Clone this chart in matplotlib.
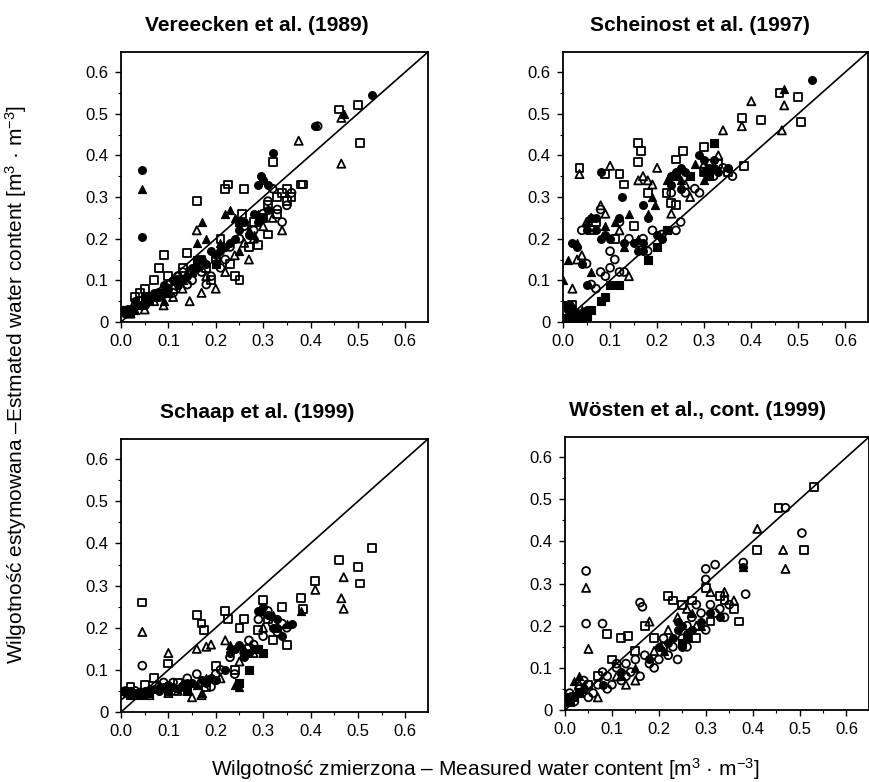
import matplotlib
matplotlib.use("Agg")
import matplotlib.pyplot as plt
from matplotlib.ticker import MultipleLocator

plt.rcParams['font.family'] = ['Liberation Sans', 'DejaVu Sans']
plt.rcParams['mathtext.fontset'] = 'custom'
plt.rcParams['mathtext.rm'] = 'Liberation Sans'
plt.rcParams['mathtext.it'] = 'Liberation Sans:italic'

titles = ["Vereecken et al. (1989)", "Scheinost et al. (1997)",
          "Schaap et al. (1999)", "Wösten et al., cont. (1999)"]
x_ticks = [0.0, 0.1, 0.2, 0.3, 0.4, 0.5, 0.6]
x_tick_labels = ["0.0", "0.1", "0.2", "0.3", "0.4", "0.5", "0.6"]
y_ticks = [0.0, 0.1, 0.2, 0.3, 0.4, 0.5, 0.6]
y_tick_labels = ["0", "0.1", "0.2", "0.3", "0.4", "0.5", "0.6"]
xlabel = "Wilgotność zmierzona – Measured water content [m$^3$ · m$^{-3}$]"
ylabel = "Wilgotność estymowana –Estmated water content [m$^3$ · m$^{-3}$]"

# ---------------- Vereecken et al. (1989) ----------------
ver_sq_open = [(0.02,0.03),(0.03,0.06),(0.05,0.08),(0.07,0.10),(0.08,0.13),(0.09,0.16),(0.10,0.11),
               (0.12,0.10),(0.14,0.165),(0.15,0.12),(0.16,0.29),(0.17,0.15),(0.19,0.10),(0.20,0.15),
               (0.22,0.32),(0.225,0.33),(0.23,0.14),(0.24,0.11),(0.25,0.10),(0.255,0.26),(0.26,0.32),
               (0.27,0.18),(0.29,0.185),(0.30,0.25),(0.31,0.21),(0.31,0.28),(0.32,0.385),(0.33,0.30),
               (0.34,0.31),(0.35,0.32),(0.36,0.30),(0.38,0.33),(0.385,0.33),(0.46,0.51),(0.50,0.52),
               (0.505,0.43),(0.06,0.05),(0.11,0.08),(0.18,0.13),(0.28,0.24),(0.04,0.07),(0.13,0.13),
               (0.21,0.20),(0.33,0.26),(0.35,0.29)]
ver_ci_open = [(0.01,0.02),(0.03,0.04),(0.04,0.05),(0.06,0.06),(0.08,0.07),(0.10,0.09),(0.12,0.11),
               (0.13,0.12),(0.15,0.10),(0.17,0.12),(0.18,0.09),(0.19,0.11),(0.21,0.13),(0.22,0.15),
               (0.23,0.18),(0.25,0.20),(0.26,0.23),(0.28,0.22),(0.30,0.26),(0.31,0.29),(0.33,0.27),
               (0.34,0.24),(0.35,0.28),(0.36,0.31),(0.32,0.32),(0.415,0.47),(0.11,0.07),(0.14,0.09)]
ver_tr_open = [(0.02,0.02),(0.05,0.03),(0.07,0.05),(0.09,0.04),(0.11,0.06),(0.145,0.05),(0.17,0.07),
               (0.16,0.22),(0.18,0.11),(0.20,0.08),(0.22,0.12),(0.24,0.16),(0.26,0.19),(0.28,0.20),
               (0.30,0.23),(0.32,0.25),(0.34,0.22),(0.375,0.435),(0.465,0.49),(0.465,0.38),(0.27,0.15),
               (0.13,0.08)]
ver_ci_fill = [(0.045,0.365),(0.045,0.205),(0.32,0.405),(0.295,0.35),(0.30,0.34),(0.31,0.33),(0.29,0.33),
               (0.41,0.47),(0.53,0.545),(0.02,0.03),(0.04,0.04),(0.06,0.05),(0.08,0.06),(0.10,0.08),
               (0.12,0.09),(0.14,0.11),(0.16,0.13),(0.18,0.14),(0.20,0.16),(0.19,0.17),(0.22,0.18),
               (0.24,0.20),(0.25,0.22),(0.27,0.21),(0.29,0.24),(0.30,0.25),(0.23,0.19),(0.09,0.09),
               (0.11,0.10),(0.13,0.10),(0.03,0.05),(0.05,0.04),(0.07,0.07),(0.09,0.07),(0.15,0.13),
               (0.17,0.15),(0.21,0.17),(0.26,0.24),(0.28,0.26),(0.31,0.27)]
ver_tr_fill = [(0.045,0.32),(0.17,0.24),(0.16,0.19),(0.18,0.20),(0.22,0.26),(0.23,0.27),(0.27,0.22),
               (0.29,0.26),(0.03,0.03),(0.07,0.06),(0.10,0.07),(0.13,0.10),(0.15,0.12),(0.21,0.19),
               (0.24,0.25),(0.25,0.17),(0.28,0.21),(0.47,0.50),(0.09,0.05),(0.01,0.025)]
ver_sq_fill = [(0.00,0.03),(0.01,0.03),(0.02,0.025),(0.04,0.04),(0.05,0.06),(0.08,0.07),(0.12,0.10),
               (0.16,0.15),(0.20,0.14),(0.25,0.24)]

# ---------------- Scheinost et al. (1997) ----------------
sch_sq_open = [(0.035,0.37),(0.09,0.355),(0.12,0.355),(0.13,0.33),(0.16,0.43),(0.165,0.41),(0.16,0.385),
               (0.24,0.39),(0.255,0.41),(0.30,0.42),(0.38,0.49),(0.42,0.485),(0.46,0.55),(0.50,0.54),
               (0.505,0.48),(0.385,0.375),(0.18,0.31),(0.22,0.31),(0.23,0.285),(0.24,0.28),(0.30,0.36),
               (0.33,0.38),(0.35,0.36),(0.11,0.20),(0.07,0.24),(0.06,0.22),(0.02,0.04),(0.15,0.23)]
sch_ci_open = [(0.04,0.22),(0.05,0.14),(0.06,0.09),(0.07,0.08),(0.08,0.12),(0.09,0.11),(0.10,0.17),
               (0.10,0.13),(0.11,0.15),(0.12,0.12),(0.13,0.12),(0.14,0.20),(0.16,0.19),(0.17,0.20),
               (0.18,0.17),(0.19,0.22),(0.21,0.21),(0.23,0.31),(0.24,0.22),(0.25,0.24),(0.26,0.31),
               (0.28,0.32),(0.29,0.31),(0.31,0.38),(0.32,0.35),(0.34,0.37),(0.36,0.35),(0.03,0.02),
               (0.08,0.27),(0.12,0.24)]
sch_tr_open = [(0.035,0.355),(0.10,0.375),(0.20,0.37),(0.16,0.34),(0.17,0.35),(0.18,0.34),(0.19,0.33),
               (0.08,0.28),(0.09,0.26),(0.06,0.25),(0.05,0.24),(0.04,0.16),(0.03,0.15),(0.12,0.22),
               (0.23,0.26),(0.26,0.33),(0.27,0.30),(0.34,0.46),(0.38,0.47),(0.40,0.53),(0.47,0.52),
               (0.465,0.46),(0.30,0.38),(0.33,0.40),(0.14,0.11),(0.02,0.08)]
sch_ci_fill = [(0.08,0.36),(0.125,0.30),(0.53,0.58),(0.02,0.19),(0.03,0.18),(0.04,0.14),(0.06,0.25),
               (0.07,0.22),(0.09,0.21),(0.10,0.20),(0.12,0.25),(0.13,0.19),(0.15,0.19),(0.17,0.17),
               (0.17,0.28),(0.18,0.25),(0.20,0.21),(0.21,0.20),(0.23,0.35),(0.24,0.36),(0.25,0.32),
               (0.26,0.36),(0.29,0.40),(0.30,0.39),(0.31,0.37),(0.32,0.39),(0.33,0.36),(0.35,0.37),
               (0.05,0.09),(0.01,0.03),(0.02,0.02),(0.05,0.22),(0.07,0.25),(0.08,0.20),(0.16,0.17),
               (0.17,0.19),(0.23,0.33),(0.25,0.37),(0.30,0.36),(0.32,0.37),(0.03,0.01),(0.05,0.03)]
sch_tr_fill = [(0.00,0.10),(0.195,0.28),(0.47,0.56),(0.01,0.15),(0.03,0.19),(0.05,0.24),(0.06,0.12),
               (0.09,0.23),(0.11,0.24),(0.14,0.26),(0.16,0.20),(0.18,0.26),(0.19,0.30),(0.22,0.34),
               (0.25,0.34),(0.28,0.38),(0.30,0.34),(0.02,0.04),(0.04,0.03),(0.13,0.18)]
sch_sq_fill = [(0.18,0.15),(0.32,0.43),(0.09,0.06),(0.04,0.01),(0.00,0.01),(0.01,0.04),(0.03,0.02),
               (0.05,0.015),(0.02,0.01),(0.10,0.09),(0.12,0.09),(0.20,0.18),(0.22,0.22),(0.24,0.35),
               (0.27,0.35),(0.31,0.35),(0.08,0.05),(0.06,0.03)]

# ---------------- Schaap et al. (1999) ----------------
sha_sq_open = [(0.045,0.26),(0.10,0.115),(0.16,0.23),(0.17,0.21),(0.175,0.195),(0.22,0.24),(0.225,0.22),
               (0.25,0.20),(0.26,0.22),(0.30,0.265),(0.34,0.25),(0.35,0.16),(0.38,0.27),(0.385,0.245),
               (0.41,0.31),(0.46,0.36),(0.50,0.345),(0.505,0.305),(0.53,0.39),(0.07,0.08),(0.02,0.06),
               (0.05,0.065),(0.12,0.07),(0.20,0.11),(0.27,0.15),(0.29,0.195),(0.32,0.17),(0.31,0.22),
               (0.24,0.10),(0.18,0.06)]
sha_ci_open = [(0.045,0.11),(0.00,0.04),(0.01,0.05),(0.03,0.05),(0.04,0.045),(0.06,0.05),(0.08,0.06),
               (0.09,0.07),(0.11,0.07),(0.13,0.06),(0.14,0.08),(0.16,0.09),(0.17,0.07),(0.19,0.06),
               (0.20,0.09),(0.21,0.10),(0.23,0.13),(0.24,0.09),(0.26,0.14),(0.27,0.17),(0.28,0.16),
               (0.29,0.22),(0.30,0.18),(0.31,0.24),(0.32,0.21),(0.33,0.19),(0.34,0.21),(0.35,0.20),
               (0.02,0.045),(0.05,0.04)]
sha_tr_open = [(0.045,0.19),(0.10,0.14),(0.16,0.15),(0.18,0.155),(0.19,0.16),(0.22,0.17),(0.33,0.20),
               (0.41,0.29),(0.47,0.32),(0.465,0.27),(0.47,0.245),(0.10,0.045),(0.15,0.035),(0.06,0.04),
               (0.12,0.05),(0.17,0.04),(0.21,0.08),(0.25,0.12),(0.28,0.14),(0.30,0.20)]
sha_ci_fill = [(0.01,0.045),(0.03,0.045),(0.05,0.05),(0.07,0.055),(0.09,0.06),(0.11,0.06),(0.13,0.065),
               (0.15,0.07),(0.17,0.075),(0.19,0.08),(0.20,0.075),(0.22,0.10),(0.23,0.14),(0.24,0.15),
               (0.25,0.16),(0.26,0.13),(0.28,0.15),(0.29,0.24),(0.30,0.25),(0.31,0.23),(0.32,0.20),
               (0.33,0.22),(0.34,0.18),(0.36,0.21),(0.08,0.05),(0.12,0.055),(0.02,0.05),(0.06,0.05),
               (0.10,0.065),(0.14,0.07),(0.18,0.07),(0.27,0.14),(0.33,0.20)]
sha_tr_fill = [(0.24,0.065),(0.25,0.06),(0.38,0.24),(0.02,0.05),(0.04,0.05),(0.06,0.055),(0.08,0.065),
               (0.10,0.06),(0.14,0.06),(0.16,0.065),(0.18,0.08),(0.23,0.16),(0.26,0.15),(0.30,0.24),
               (0.32,0.23),(0.35,0.21),(0.17,0.045)]
sha_sq_fill = [(0.00,0.05),(0.02,0.04),(0.04,0.04),(0.06,0.045),(0.10,0.05),(0.14,0.05),(0.25,0.07),
               (0.29,0.15),(0.27,0.10),(0.30,0.14)]

# ---------------- Wösten et al., cont. (1999) ----------------
wos_sq_open = [(0.02,0.03),(0.05,0.06),(0.09,0.18),(0.10,0.12),(0.12,0.17),(0.135,0.175),(0.15,0.14),
               (0.17,0.20),(0.19,0.17),(0.22,0.27),(0.23,0.26),(0.25,0.25),(0.27,0.26),(0.30,0.29),
               (0.31,0.21),(0.33,0.27),(0.34,0.26),(0.36,0.24),(0.37,0.21),(0.41,0.38),(0.51,0.38),
               (0.53,0.53),(0.455,0.48),(0.28,0.17),(0.21,0.15),(0.07,0.08)]
wos_ci_open = [(0.045,0.33),(0.045,0.205),(0.08,0.205),(0.16,0.255),(0.165,0.245),(0.30,0.335),
               (0.32,0.345),(0.30,0.31),(0.385,0.275),(0.38,0.35),(0.47,0.48),(0.505,0.42),(0.01,0.04),
               (0.03,0.05),(0.04,0.07),(0.06,0.04),(0.08,0.09),(0.09,0.05),(0.11,0.10),(0.12,0.07),
               (0.13,0.11),(0.14,0.09),(0.16,0.08),(0.17,0.13),(0.18,0.11),(0.20,0.12),(0.21,0.17),
               (0.23,0.15),(0.24,0.12),(0.25,0.17),(0.26,0.20),(0.27,0.22),(0.29,0.23),(0.30,0.19),
               (0.31,0.25),(0.32,0.23),(0.33,0.24),(0.35,0.25),(0.10,0.06),(0.05,0.03),(0.07,0.06),
               (0.09,0.08),(0.11,0.11),(0.13,0.08),(0.15,0.12),(0.19,0.10),(0.22,0.13),(0.26,0.15),
               (0.28,0.25),(0.34,0.22),(0.02,0.02)]
wos_tr_open = [(0.045,0.29),(0.05,0.145),(0.41,0.43),(0.465,0.38),(0.47,0.335),(0.13,0.06),(0.15,0.07),
               (0.11,0.08),(0.19,0.14),(0.22,0.19),(0.24,0.22),(0.26,0.24),(0.28,0.20),(0.31,0.28),
               (0.34,0.28),(0.03,0.06),(0.07,0.03),(0.18,0.21),(0.36,0.26)]
wos_ci_fill = [(0.38,0.34),(0.24,0.19),(0.25,0.20),(0.26,0.18),(0.23,0.17),(0.25,0.15),(0.27,0.19),
               (0.24,0.21),(0.22,0.16),(0.20,0.15),(0.18,0.12),(0.29,0.21),(0.31,0.23),(0.33,0.22),
               (0.12,0.09),(0.08,0.06),(0.04,0.05),(0.02,0.03)]
wos_tr_fill = [(0.02,0.07),(0.03,0.08),(0.04,0.06),(0.29,0.20),(0.27,0.23),(0.38,0.34),(0.12,0.08),
               (0.15,0.10),(0.21,0.14)]
wos_sq_fill = [(0.00,0.03),(0.01,0.02),(0.03,0.04),(0.25,0.16),(0.26,0.17)]

panels = [
    (ver_sq_open, ver_ci_open, ver_tr_open, ver_ci_fill, ver_tr_fill, ver_sq_fill),
    (sch_sq_open, sch_ci_open, sch_tr_open, sch_ci_fill, sch_tr_fill, sch_sq_fill),
    (sha_sq_open, sha_ci_open, sha_tr_open, sha_ci_fill, sha_tr_fill, sha_sq_fill),
    (wos_sq_open, wos_ci_open, wos_tr_open, wos_ci_fill, wos_tr_fill, wos_sq_fill),
]
styles = [('s', False), ('o', False), ('^', False), ('o', True), ('^', True), ('s', True)]

fig = plt.figure(figsize=(8.69, 7.82), dpi=100)
rects = [
    [121/869, 1-322/782, 307/869, 270/782],
    [563/869, 1-322/782, 305/869, 270/782],
    [121/869, 1-712/782, 307/869, 273/782],
    [565/869, 1-710/782, 304/869, 273/782],
]
title_x = [0.443, 0.449, 0.443, 0.435]
lim = 0.648
for i, (rect, data) in enumerate(zip(rects, panels)):
    ax = fig.add_axes(rect)
    ax.plot([0, lim], [0, lim], color='black', lw=1.2, zorder=1)
    for (mk, filled), pts in zip(styles, data):
        xs = [p[0] for p in pts]
        ys = [p[1] for p in pts]
        size = 32 if mk != '^' else 34
        if filled:
            ax.scatter(xs, ys, marker=mk, s=size, facecolor='black', edgecolor='black',
                       linewidths=0.8, zorder=3)
        else:
            ax.scatter(xs, ys, marker=mk, s=size, facecolor='none', edgecolor='black',
                       linewidths=1.3, zorder=2)
    ax.set_xlim(0, lim)
    ax.set_ylim(0, lim)
    ax.set_xticks(x_ticks)
    ax.set_xticklabels(x_tick_labels)
    ax.set_yticks(y_ticks)
    ax.set_yticklabels(y_tick_labels)
    ax.xaxis.set_minor_locator(MultipleLocator(0.05))
    ax.yaxis.set_minor_locator(MultipleLocator(0.05))
    ax.tick_params(which='major', direction='out', length=4, width=1.0, labelsize=12, pad=5)
    ax.tick_params(which='minor', direction='out', length=2.5, width=0.8)
    for sp in ax.spines.values():
        sp.set_linewidth(1.3)
    ax.set_title(titles[i], fontsize=15, fontweight='bold', x=title_x[i], pad=15)

fig.text(0.018, 0.508, ylabel, rotation=90, ha='center', va='center', fontsize=15)
fig.text(0.558, 0.017, xlabel, ha='center', va='center', fontsize=15)

fig.savefig("out.png", dpi=100, facecolor='white')
